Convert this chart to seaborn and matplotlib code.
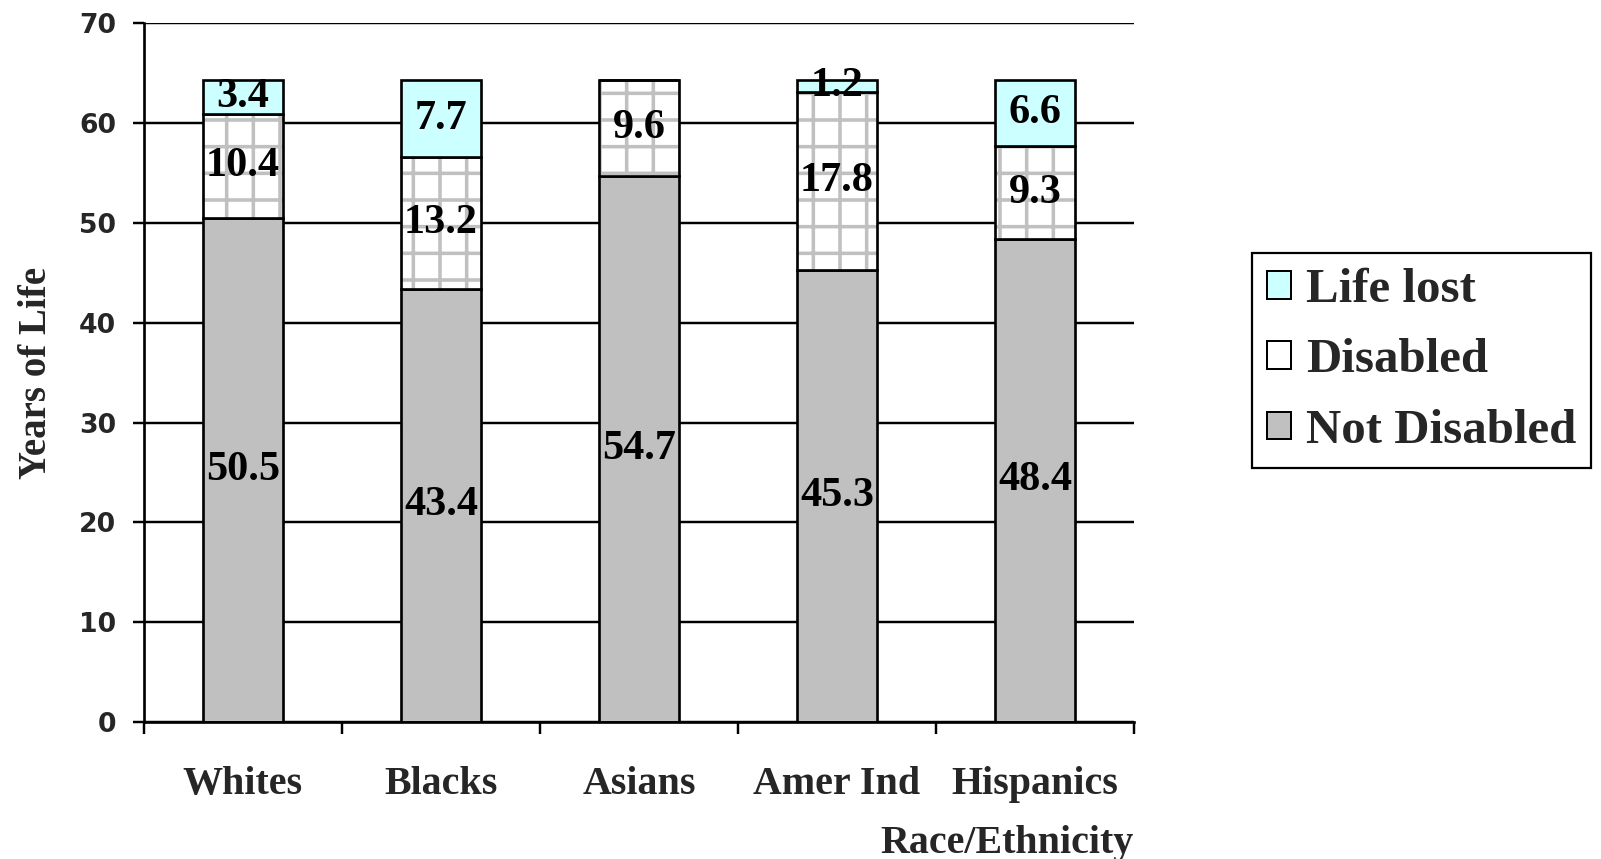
import matplotlib
matplotlib.use('Agg')
import matplotlib.pyplot as plt
from matplotlib.patches import Patch
from matplotlib.ticker import FixedLocator
import numpy as np
import pandas as pd
import seaborn as sns

# data
groups = ['Whites', 'Blacks', 'Asians', 'Amer Ind', 'Hispanics']
not_disabled = [50.5, 43.4, 54.7, 45.3, 48.4]
disabled = [10.4, 13.2, 9.6, 17.8, 9.3]
life_lost = [3.4, 7.7, 0.0, 1.2, 6.6]
legend_names = ['Life lost', 'Disabled', 'Not Disabled']

c_lost = '#ccffff'
c_dis = 'white'
c_nd = '#c0c0c0'

sns.set_style('white')
plt.rcParams['font.family'] = ['Liberation Serif', 'DejaVu Serif']
plt.rcParams['font.weight'] = 'bold'
plt.rcParams['hatch.color'] = '#c0c0c0'
plt.rcParams['hatch.linewidth'] = 1.6

df = pd.DataFrame({'group': groups, 'nd': not_disabled, 'dis': disabled, 'lost': life_lost})
bottom_lost = (df['nd'] + df['dis']).to_numpy()

dpi = 160
fig = plt.figure(figsize=(1601 / dpi, 859 / dpi), dpi=dpi)
ax = fig.add_axes([0.0899, 0.1595, 0.6184, 0.8132])

w = 0.4
lw = 1.2
sns.barplot(data=df, x='group', y='nd', color=c_nd, saturation=1, width=w,
            edgecolor='black', linewidth=lw, errorbar=None, ax=ax)
sns.barplot(data=df, x='group', y='dis', bottom=df['nd'].to_numpy(), color=c_dis,
            saturation=1, width=w, edgecolor='#c0c0c0', linewidth=0, hatch='+',
            errorbar=None, ax=ax)
sns.barplot(data=df, x='group', y='dis', bottom=df['nd'].to_numpy(), fill=False,
            color='black', width=w, linewidth=lw, errorbar=None, ax=ax)
sns.barplot(data=df, x='group', y='lost', bottom=bottom_lost, color=c_lost, saturation=1,
            width=w, edgecolor='black', linewidth=lw, errorbar=None, ax=ax)

# value labels in the middle of each segment
lab_font = dict(fontsize=19, fontweight='bold', color='black')
ax.bar_label(ax.containers[0], labels=[f'{v:.1f}' for v in not_disabled], label_type='center', **lab_font)
ax.bar_label(ax.containers[2], labels=[f'{v:.1f}' for v in disabled], label_type='center', **lab_font)
ax.bar_label(ax.containers[3], labels=[f'{v:.1f}' if v > 0 else '' for v in life_lost],
             label_type='center', **lab_font)

ax.set_xlim(-0.5, 4.5)
ax.set_ylim(0, 70)
ax.set_yticks(range(0, 80, 10))
ax.yaxis.grid(True, color='black', linewidth=1.1)
ax.xaxis.grid(False)
ax.set_axisbelow(True)

for s in ['top', 'right']:
    ax.spines[s].set_visible(False)
for s in ['left', 'bottom']:
    ax.spines[s].set_color('black')
    ax.spines[s].set_linewidth(1.2)

ax.xaxis.set_minor_locator(FixedLocator(np.arange(-0.5, 5, 1)))
ax.tick_params(axis='x', which='major', bottom=True, length=0, pad=19.8, labelsize=18)
ax.tick_params(axis='x', which='minor', bottom=True, length=5.4, width=1.1,
               direction='out', color='black')
ax.tick_params(axis='y', left=True, length=5, width=1.1, direction='out',
               color='black', pad=7.5, labelsize=12)
for t in ax.get_yticklabels():
    t.set_fontfamily('DejaVu Sans')
    t.set_fontweight('heavy')
for t in ax.get_xticklabels():
    t.set_fontweight('bold')

ax.set_ylabel('Years of Life', fontsize=17.5, fontweight='bold')
ax.yaxis.set_label_coords(-0.090, 0.5)
ax.set_xlabel('Race/Ethnicity', fontsize=18, fontweight='bold')
ax.xaxis.set_label_coords(1.0, -0.1475)
ax.xaxis.label.set_ha('right')

handles = [Patch(facecolor=c_lost, edgecolor='black', linewidth=0.9),
           Patch(facecolor=c_dis, edgecolor='black', linewidth=0.9),
           Patch(facecolor=c_nd, edgecolor='black', linewidth=0.9)]
leg = fig.legend(handles, legend_names, loc='upper left', bbox_to_anchor=(0.782, 0.705),
                 prop={'family': 'Liberation Serif', 'weight': 'bold', 'size': 22},
                 frameon=True, fancybox=False, framealpha=1, edgecolor='black',
                 handlelength=0.5, handleheight=0.5, handletextpad=0.3,
                 labelspacing=0.54, borderpad=0.3, borderaxespad=0)
leg.get_frame().set_linewidth(1.0)

fig.savefig('out.png', dpi=dpi)
